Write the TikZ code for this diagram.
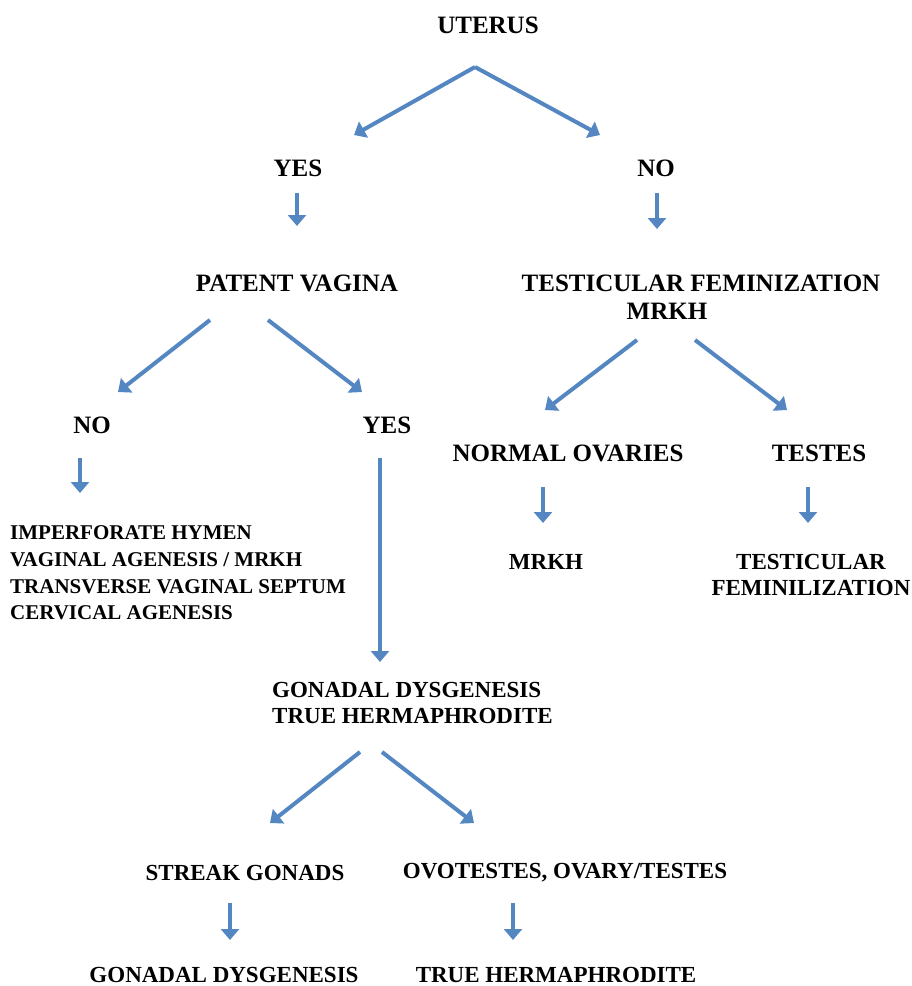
\documentclass[tikz,border=0pt]{standalone}
\usepackage{fontspec}
\setmainfont{Liberation Serif}
\usetikzlibrary{positioning,arrows.meta}
\definecolor{arrowblue}{RGB}{84,135,194}
\tikzset{big node/.style={font=\fontsize{25}{28}\selectfont\bfseries,inner sep=0pt,align=center}}
\tikzset{mid node/.style={font=\fontsize{23}{26.5}\selectfont\bfseries,inner sep=0pt,align=center}}
\tikzset{list node/.style={font=\fontsize{21}{26.7}\selectfont\bfseries,inner sep=0pt,align=left,anchor=west}}
\tikzset{flow arrow/.style={draw=arrowblue,line width=4pt,-{Triangle[length=11pt,width=18pt]}}}

\begin{document}
\begin{tikzpicture}[x=1pt,y=-1pt]
\useasboundingbox (0,0) rectangle (912,986);

% labels
\node[big node] (uterus) at (488,25) {UTERUS};
\node[big node] (yes1) at (298,168) {YES};
\node[big node] (no1) at (656,168) {NO};
\node[big node] (patent) at (297,283) {PATENT VAGINA};
\node[big node] (tfm) at (701,297) {TESTICULAR FEMINIZATION\\MRKH\hspace*{68pt}};
\node[big node] (no2) at (92,425) {NO};
\node[big node] (yes2) at (387,425) {YES};
\node[big node] (ovaries) at (568,453) {NORMAL OVARIES};
\node[big node] (testes) at (819,453) {TESTES};
\node[list node] (obstruct) at (10,573) {IMPERFORATE HYMEN\\VAGINAL AGENESIS / MRKH\\TRANSVERSE VAGINAL SEPTUM\\CERVICAL AGENESIS};
\node[mid node] (mrkh) at (546,562) {MRKH};
\node[mid node] (tfem) at (811,575) {TESTICULAR\\FEMINILIZATION};
\node[mid node,anchor=west,align=left] (gdth) at (272,703) {GONADAL DYSGENESIS\\TRUE HERMAPHRODITE};
\node[mid node] (streak) at (245,873) {STREAK GONADS};
\node[mid node] (ovot) at (565,873) {OVOTESTES, OVARY/TESTES};
\node[mid node] (gd) at (224,975) {GONADAL DYSGENESIS};
\node[mid node] (th) at (556,975) {TRUE HERMAPHRODITE};

% split arrows
\coordinate (uterus split) at (475,67);
\coordinate (yes1 tip) at (354,135);
\coordinate (no1 tip) at (600,135);
\coordinate (pv left) at (210,320);
\coordinate (pv right) at (268,320);
\coordinate (no2 tip) at (118,392);
\coordinate (yes2 tip) at (362,392);
\coordinate (tf left) at (637,340);
\coordinate (tf right) at (695,340);
\coordinate (ov tip) at (545,410);
\coordinate (te tip) at (787,410);
\coordinate (gd left) at (360,752);
\coordinate (gd right) at (382,752);
\coordinate (streak tip) at (270,823);
\coordinate (ovot tip) at (474,823);

\draw[flow arrow] (uterus split) -- (yes1 tip);
\draw[flow arrow] (uterus split) -- (no1 tip);
\draw[flow arrow] (pv left) -- (no2 tip);
\draw[flow arrow] (pv right) -- (yes2 tip);
\draw[flow arrow] (tf left) -- (ov tip);
\draw[flow arrow] (tf right) -- (te tip);
\draw[flow arrow] (gd left) -- (streak tip);
\draw[flow arrow] (gd right) -- (ovot tip);

% down arrows
\foreach \n/\x/\a/\b in {yes1/297/193/226, no1/657/193/229, no2/80/458/493,
  yes2/380/458/662, ovaries/543/487/523, testes/808/487/523,
  streak/230/903/940, ovot/513/903/940}{
    \coordinate (\n down top) at (\x,\a);
    \coordinate (\n down tip) at (\x,\b);
    \draw[flow arrow] (\n down top) -- (\n down tip);
}

\end{tikzpicture}
\end{document}
